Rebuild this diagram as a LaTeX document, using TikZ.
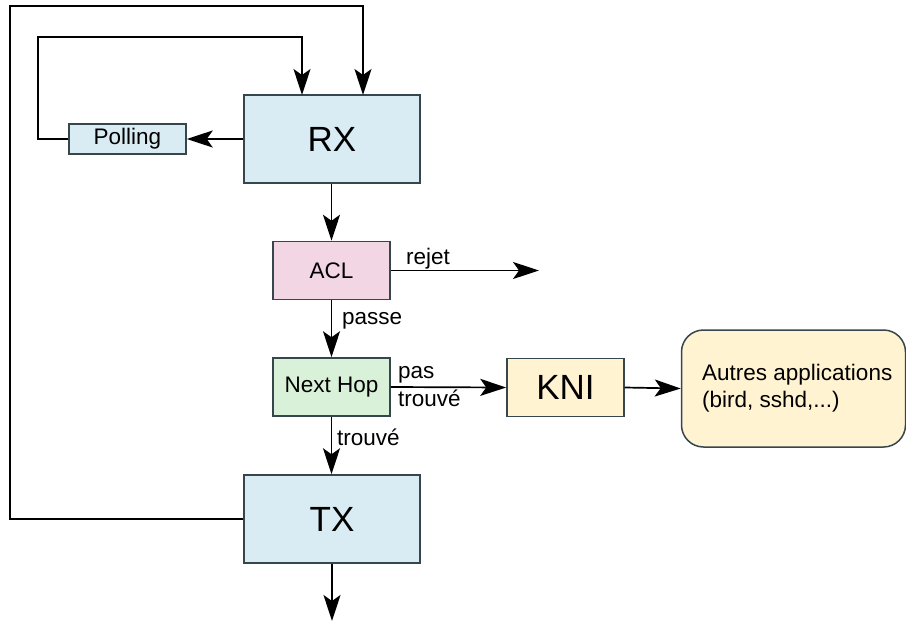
\documentclass[tikz,border=0pt]{standalone}
\usepackage{fontspec}
\setmainfont{Liberation Sans}
\usetikzlibrary{arrows.meta}
\definecolor{bord}{HTML}{36464C}
\definecolor{fblue}{HTML}{D9ECF3}
\definecolor{fpink}{HTML}{F3D6E4}
\definecolor{fgreen}{HTML}{D8F1D8}
\definecolor{fcream}{HTML}{FFF3D1}
\tikzset{
  box/.style={draw=bord, line width=1.5pt, inner sep=0pt, align=center},
  bigtext/.style={font=\fontsize{35}{40}\selectfont},
  smalltext/.style={font=\fontsize{22.5}{27.5}\selectfont},
  arr/.style={line width=1.7pt, -{Stealth[length=26pt,width=17pt,inset=6pt]}},
  lbl/.style={smalltext, inner sep=0pt}
}
\begin{document}
\begin{tikzpicture}[x=1pt,y=-1pt]
\useasboundingbox (0,0) rectangle (906,624);
% nodes
\node[box, fill=fblue, bigtext, minimum width=176pt, minimum height=88pt] (rx) at (332,139) {RX};
\node[box, fill=fblue, smalltext, minimum width=117pt, minimum height=30pt] (pol) at (127.5,139) {Polling};
\node[box, fill=fpink, smalltext, minimum width=117pt, minimum height=58pt] (acl) at (331.5,270.5) {ACL};
\node[box, fill=fgreen, smalltext, minimum width=117pt, minimum height=58pt] (nh) at (331.5,387) {Next Hop};
\node[box, fill=fcream, bigtext, minimum width=117pt, minimum height=58pt] (kni) at (565.5,387.5) {KNI};
\node[box, fill=fcream, rounded corners=22pt, minimum width=224pt, minimum height=117pt] (app) at (793.5,388.5) {};
\node[align=left, anchor=west, inner sep=0pt, font=\fontsize{22.5}{26.7}\selectfont] (apptxt) at (702,388) {Autres applications\\(bird, sshd,...)};
\node[box, fill=fblue, bigtext, minimum width=176pt, minimum height=88pt] (tx) at (332,519) {TX};
% coordinates
\coordinate (i1) at (38,37);
\coordinate (rxa) at (302,95);
\coordinate (o1) at (10,6);
\coordinate (rxb) at (363,95);
\coordinate (rej) at (539,270.5);
\coordinate (out) at (332,621);
% connectors
\draw[arr] (rx.west) -- (pol.east);
\draw[arr] (pol.west) -| (i1) -| (rxa);
\draw[arr] (tx.west) -| (o1) -| (rxb);
\draw[arr] (rx.south -| acl.north) -- (acl.north);
\draw[arr] (acl.east) -- (rej);
\draw[arr] (acl.south) -- (nh.north);
\draw[arr] (nh.east) -- (kni.west);
\draw[arr] (kni.east) -- (app.west);
\draw[arr] (nh.south) -- (tx.north -| nh.south);
\draw[arr] (tx.south) -- (out);
% labels
\node[lbl, anchor=base west] (lrej) at (406,264) {rejet};
\node[lbl, anchor=base west] (lpas) at (342,324) {passe};
\node[lbl, anchor=base west] (lpt) at (398,378) {pas};
\node[lbl, anchor=base west] (lpt2) at (398,406) {trouvé};
\node[lbl, anchor=base west] (ltr) at (337,445) {trouvé};
\end{tikzpicture}
\end{document}
